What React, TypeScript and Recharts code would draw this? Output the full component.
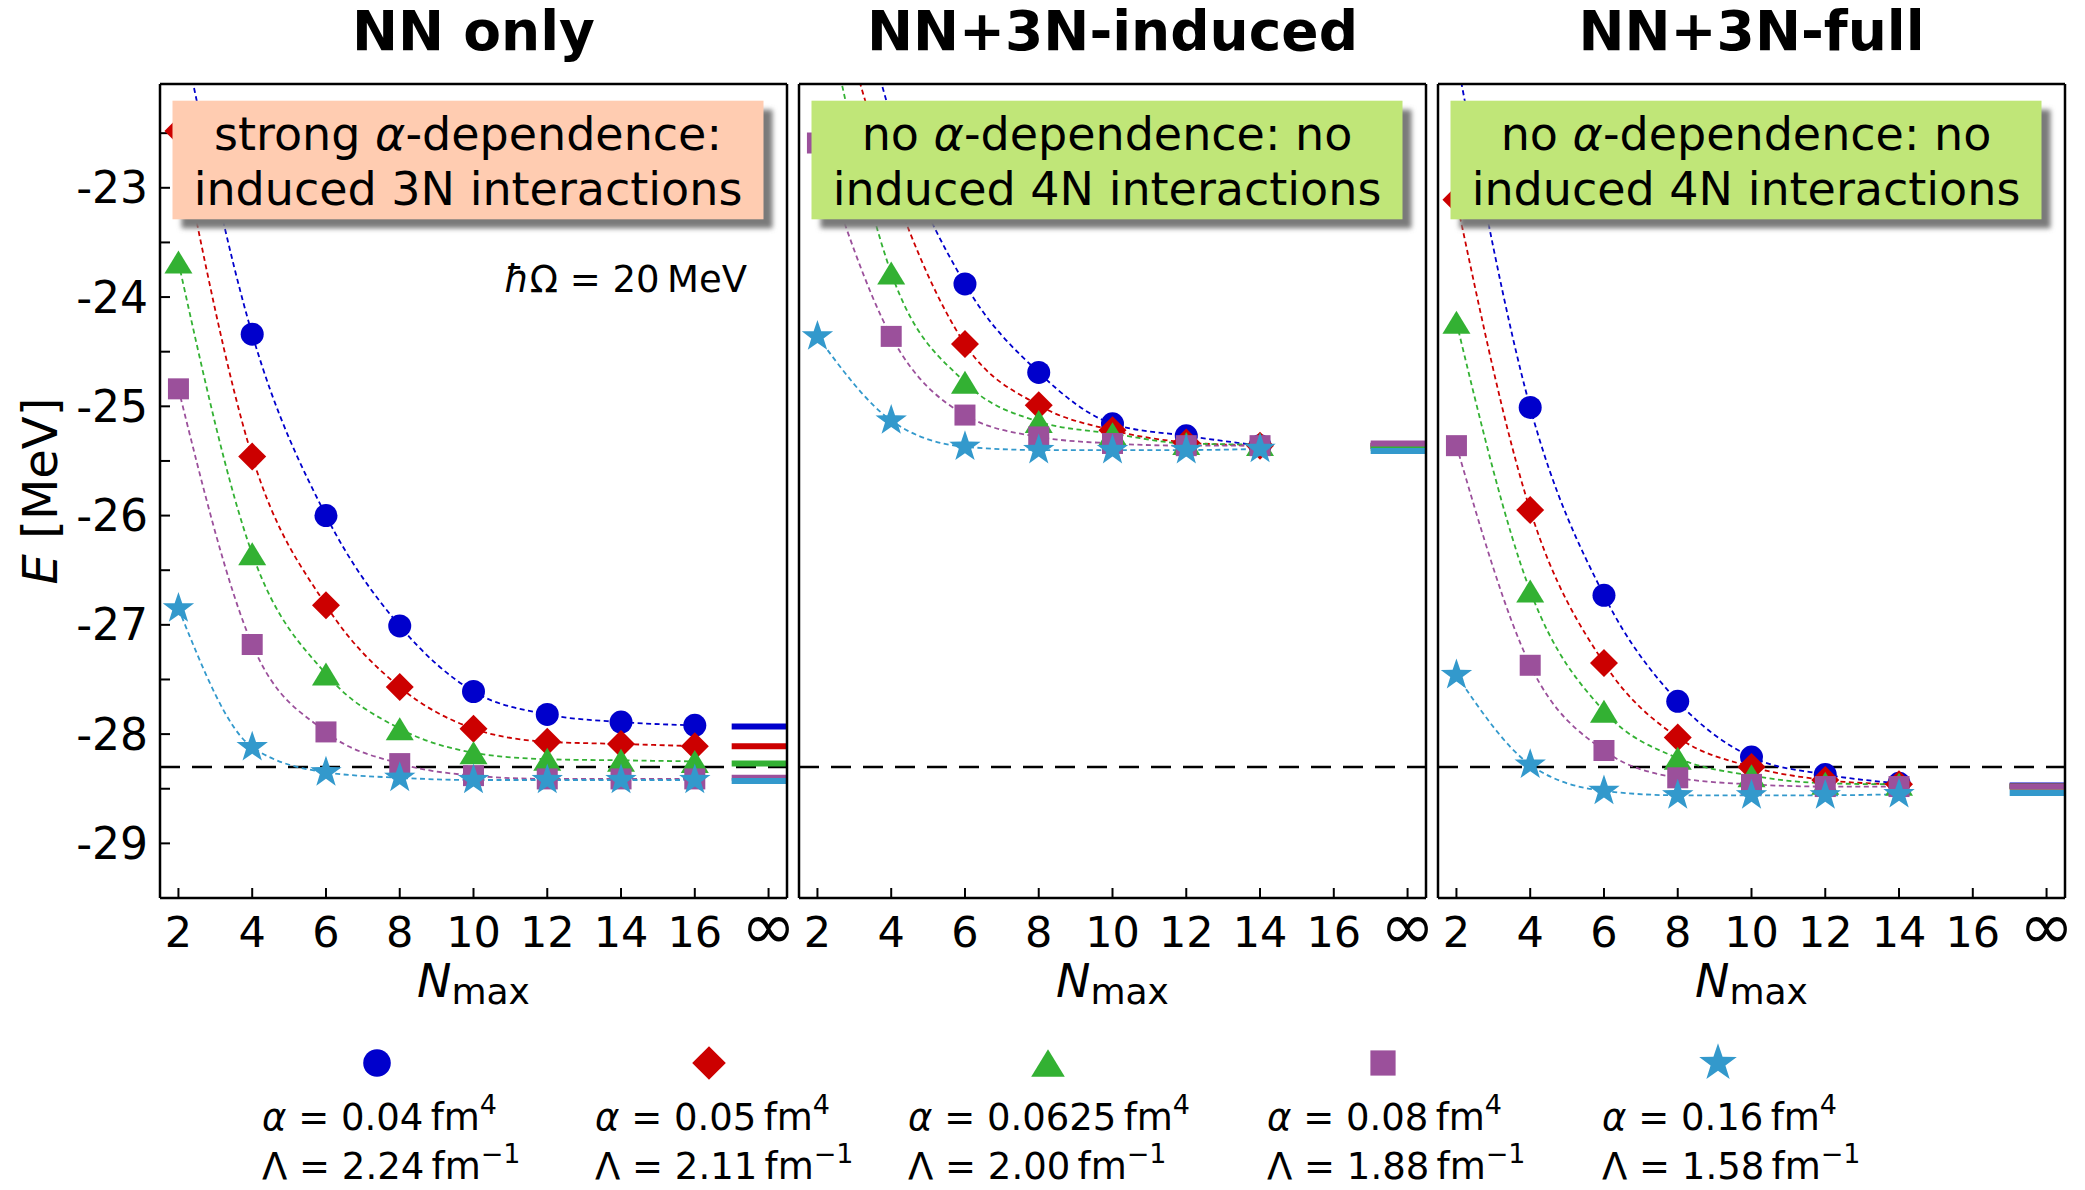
import React from 'react';
import { LineChart, Line, XAxis, YAxis, ReferenceLine } from 'recharts';

const FONT = '"DejaVu Sans", sans-serif';

// N_max of the calculations
const nmaxNN = [2, 4, 6, 8, 10, 12, 14, 16];
const nmax3N = [2, 4, 6, 8, 10, 12, 14];

// E [MeV], NN only
const nnA004 = [-21.4, -24.34, -26.0, -27.01, -27.61, -27.82, -27.89, -27.92];
const nnA005 = [-22.48, -25.46, -26.82, -27.57, -27.95, -28.07, -28.09, -28.11];
const nnA0625 = [-23.68, -26.35, -27.45, -27.95, -28.17, -28.23, -28.24, -28.25];
const nnA008 = [-24.84, -27.18, -27.98, -28.27, -28.38, -28.41, -28.41, -28.41];
const nnA016 = [-26.85, -28.12, -28.35, -28.4, -28.42, -28.42, -28.42, -28.42];

// E [MeV], NN+3N-induced
const indA004 = [-19.5, -22.35, -23.88, -24.69, -25.16, -25.27, -25.36];
const indA005 = [-20.6, -22.95, -24.43, -24.99, -25.22, -25.33, -25.36];
const indA0625 = [-21.0, -23.78, -24.78, -25.14, -25.25, -25.34, -25.35];
const indA008 = [-22.59, -24.36, -25.08, -25.28, -25.34, -25.36, -25.36];
const indA016 = [-24.36, -25.13, -25.37, -25.4, -25.4, -25.4, -25.39];

// E [MeV], NN+3N-full
const fullA004 = [-21.8, -25.01, -26.73, -27.7, -28.21, -28.37, -28.45];
const fullA005 = [-23.11, -25.95, -27.35, -28.03, -28.3, -28.42, -28.46];
const fullA0625 = [-24.23, -26.69, -27.79, -28.22, -28.38, -28.45, -28.46];
const fullA008 = [-25.36, -27.37, -28.15, -28.4, -28.46, -28.48, -28.48];
const fullA016 = [-27.46, -28.28, -28.52, -28.56, -28.56, -28.56, -28.55];

// extrapolated N_max -> infinity, one per alpha
const nnInf = [-27.93, -28.11, -28.27, -28.4, -28.43];
const indInf = [-25.36, -25.36, -25.38, -25.34, -25.41];
const fullInf = [-28.47, -28.48, -28.48, -28.48, -28.54];

const E_EXP = -28.3;

const alphaLabels = ['0.04', '0.05', '0.0625', '0.08', '0.16'];
const lambdaLabels = ['2.24', '2.11', '2.00', '1.88', '1.58'];
const titles = ['NN only', 'NN+3N-induced', 'NN+3N-full'];
const boxLines = [
  ['strong ', '-dependence:', 'induced 3N interactions'],
  ['no ', '-dependence: no', 'induced 4N interactions'],
  ['no ', '-dependence: no', 'induced 4N interactions'],
];

const xTicks = [2, 4, 6, 8, 10, 12, 14, 16, 18];
const yTicks = [-29.5, -29, -28.5, -28, -27.5, -27, -26.5, -26, -25.5, -25, -24.5, -24, -23.5, -23, -22.5];
const X_INF = 18;

const KEYS = ['a004', 'a005', 'a0625', 'a008', 'a016'];
const COLORS = ['#0000cc', '#cc0000', '#33b133', '#9b509b', '#3399cc'];
const SHAPES = ['circle', 'diamond', 'triangle', 'square', 'star'];
const BOX_COLORS = ['#ffccb1', '#c0e678', '#c0e678'];

const makeRows = (ns: number[], cols: number[][]) =>
  ns.map((n, i) => {
    const row: any = { n };
    KEYS.forEach((k, j) => (row[k] = cols[j][i]));
    return row;
  });

const panels = [
  { rows: makeRows(nmaxNN, [nnA004, nnA005, nnA0625, nnA008, nnA016]), inf: nnInf },
  { rows: makeRows(nmax3N, [indA004, indA005, indA0625, indA008, indA016]), inf: indInf },
  { rows: makeRows(nmax3N, [fullA004, fullA005, fullA0625, fullA008, fullA016]), inf: fullInf },
];

// layout
const PANEL_LEFT = [160, 799, 1438];
const PLOT_W = 627;
const PLOT_TOP = 84;
const PLOT_H = 814;
const Y_AXIS_W = 150;
const CHART_H = 1040;
const X_AXIS_H = 110;

const Marker = ({ shape, cx, cy, color, s = 1 }: any) => {
  if (shape === 'circle') return <circle cx={cx} cy={cy} r={11.5 * s} fill={color} />;
  if (shape === 'diamond') {
    const d = 14 * s;
    return <polygon points={`${cx},${cy - d} ${cx + d},${cy} ${cx},${cy + d} ${cx - d},${cy}`} fill={color} />;
  }
  if (shape === 'triangle') {
    const w = 14 * s, h = 11.5 * s;
    return <polygon points={`${cx},${cy - h} ${cx + w},${cy + h} ${cx - w},${cy + h}`} fill={color} />;
  }
  if (shape === 'square') {
    const a = 10.5 * s;
    return <rect x={cx - a} y={cy - a} width={2 * a} height={2 * a} fill={color} />;
  }
  const pts = [];
  for (let k = 0; k < 10; k++) {
    const r = (k % 2 ? 6.5 : 16.5) * s;
    const ang = ((-90 + 36 * k) * Math.PI) / 180;
    pts.push(`${cx + r * Math.cos(ang)},${cy + r * Math.sin(ang)}`);
  }
  return <polygon points={pts.join(' ')} fill={color} />;
};

const dotFor = (shape: string, color: string) => (p: any) =>
  <Marker key={`${shape}-${p.index}`} shape={shape} cx={p.cx} cy={p.cy} color={color} />;

// bottom tick label, infinity drawn larger like mathtext
const XTick = ({ x, y, payload }: any) => {
  const inf = payload.value === X_INF;
  return (
    <text x={x} y={y + (inf ? 33 : 30.5)} textAnchor="middle" fontSize={inf ? 66 : 43} fill="#000">
      {inf ? '∞' : String(payload.value)}
    </text>
  );
};

const NmaxLabel = ({ viewBox }: any) => (
  <text x={viewBox.x + viewBox.width / 2} y={viewBox.y + 99} textAnchor="middle" fontSize={46} fill="#000">
    <tspan fontStyle="italic">N</tspan>
    <tspan fontSize={36} dy={7}>max</tspan>
  </text>
);

const ELabel = ({ viewBox }: any) => {
  const cx = viewBox.x + 30;
  const cy = viewBox.y + viewBox.height / 2;
  return (
    <text x={cx} y={cy} transform={`rotate(-90 ${cx} ${cy})`} textAnchor="middle" dominantBaseline="central" fontSize={48} fill="#000">
      <tspan fontStyle="italic">E</tspan>{' [MeV]'}
    </text>
  );
};

const fmtY = (v: number) => (Number.isInteger(v) ? String(v) : '');
const frame = { stroke: '#000', strokeWidth: 2.5 };
const tickLn = { stroke: '#000', strokeWidth: 2 };

function Panel({ idx }: { idx: number }) {
  const { rows, inf } = panels[idx];
  const first = idx === 0;
  return (
    <div style={{ position: 'absolute', left: PANEL_LEFT[idx] - Y_AXIS_W, top: 0 }}>
      <LineChart
        width={Y_AXIS_W + PLOT_W + 20}
        height={CHART_H}
        data={rows}
        margin={{ top: PLOT_TOP - 30, right: 0, bottom: CHART_H - PLOT_TOP - PLOT_H - X_AXIS_H, left: 0 }}
      >
        <XAxis
          dataKey="n" type="number" domain={[1.5, 18.5]} ticks={xTicks} interval={0} allowDataOverflow
          height={X_AXIS_H} tickSize={-10} tickMargin={28}
          axisLine={frame} tickLine={tickLn} tick={<XTick />}
          label={<NmaxLabel />}
        />
        <XAxis
          xAxisId="top" orientation="top" dataKey="n" type="number" domain={[1.5, 18.5]} ticks={xTicks}
          interval={0} allowDataOverflow height={30} tickSize={-10} axisLine={frame} tickLine={tickLn} tick={false}
        />
        <YAxis
          type="number" domain={[-29.5, -22.05]} ticks={yTicks} interval={0} allowDataOverflow
          width={Y_AXIS_W} tickSize={-10} tickMargin={22} tickFormatter={fmtY}
          axisLine={frame} tickLine={tickLn} tick={first ? { fill: '#000', fontSize: 44 } : false}
          label={first ? <ELabel /> : undefined}
        />
        <YAxis
          yAxisId="right" orientation="right" type="number" domain={[-29.5, -22.05]} ticks={yTicks}
          interval={0} allowDataOverflow width={20} tickSize={-10} axisLine={frame} tickLine={tickLn} tick={false}
        />
        <ReferenceLine y={E_EXP} stroke="#000" strokeWidth={2.5} strokeDasharray="20 12" />
        {KEYS.map((k, j) => (
          <Line
            key={k} dataKey={k} type="monotone" stroke={COLORS[j]} strokeWidth={1.8} strokeDasharray="5 3.5"
            dot={dotFor(SHAPES[j], COLORS[j])} activeDot={false} isAnimationActive={false}
          />
        ))}
        {inf.map((v, j) => (
          <ReferenceLine key={`inf-${j}`} segment={[{ x: 17, y: v }, { x: 18.5, y: v }]} stroke={COLORS[j]} strokeWidth={6} />
        ))}
      </LineChart>
    </div>
  );
}

const legendCenters = [377, 709, 1048, 1383, 1718];
const legendTextX = [262, 595, 908, 1267, 1602];

function Overlay() {
  return (
    <svg width={2085} height={1190} style={{ position: 'absolute', left: 0, top: 0 }} fontFamily={FONT}>
      <defs>
        <filter id="shadowBlur" x="-5%" y="-20%" width="110%" height="140%">
          <feGaussianBlur stdDeviation="2.5" />
        </filter>
      </defs>
      {titles.map((t, i) => (
        <text key={t} x={PANEL_LEFT[i] + PLOT_W / 2} y={50} textAnchor="middle" fontWeight="bold" fontSize={55} fill="#000">
          {t}
        </text>
      ))}
      {boxLines.map((b, i) => {
        const bx = PANEL_LEFT[i] + 12.5;
        const cx = bx + 295.5;
        return (
          <g key={i}>
            <rect x={bx + 9} y={109.7} width={591} height={118.6} fill="#7a7a7a" filter="url(#shadowBlur)" />
            <rect x={bx} y={100.7} width={591} height={118.6} fill={BOX_COLORS[i]} />
            <text x={cx} y={150} textAnchor="middle" fontSize={46} fill="#000">
              {b[0]}<tspan fontStyle="italic">α</tspan>{b[1]}
            </text>
            <text x={cx} y={205} textAnchor="middle" fontSize={46} fill="#000">{b[2]}</text>
          </g>
        );
      })}
      <text x={PANEL_LEFT[0] + PLOT_W - 40} y={292} textAnchor="end" fontSize={37} fill="#000">
        <tspan fontStyle="italic">ħ</tspan>{'Ω = 20\u2009MeV'}
      </text>
      {alphaLabels.map((a, i) => (
        <g key={a}>
          <Marker shape={SHAPES[i]} cx={legendCenters[i]} cy={1063} color={COLORS[i]} s={1.2} />
          <text x={legendTextX[i]} y={1130} fontSize={37} fill="#000">
            <tspan fontStyle="italic">α</tspan>{` = ${a}\u2009fm`}
            <tspan fontSize={27} dy={-16}>4</tspan>
          </text>
          <text x={legendTextX[i]} y={1179} fontSize={37} fill="#000">
            {`Λ = ${lambdaLabels[i]}\u2009fm`}
            <tspan fontSize={27} dy={-16}>−1</tspan>
          </text>
        </g>
      ))}
    </svg>
  );
}

export default function App() {
  return (
    <div style={{ position: 'absolute', left: 0, top: 0, width: 2085, height: 1190, overflow: 'hidden', background: '#fff', fontFamily: FONT }}>
      {[0, 1, 2].map((i) => (
        <Panel key={i} idx={i} />
      ))}
      <Overlay />
    </div>
  );
}
